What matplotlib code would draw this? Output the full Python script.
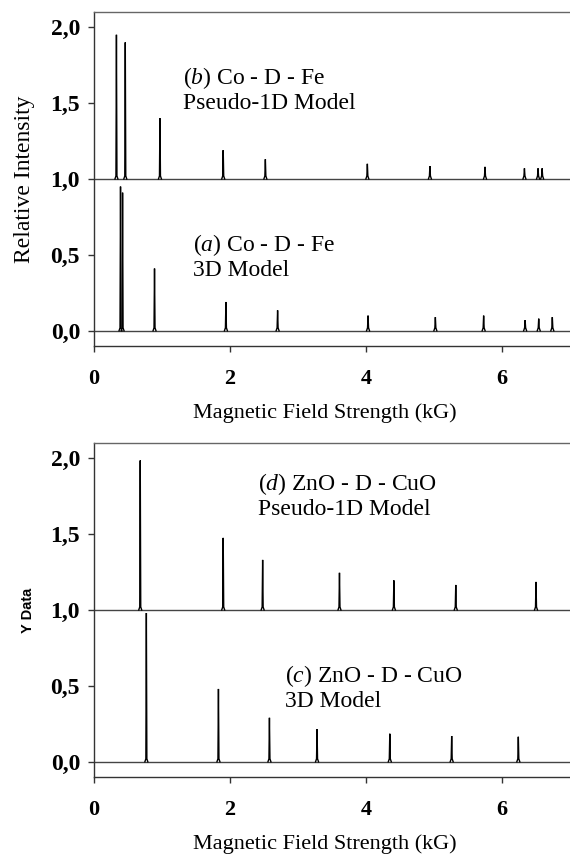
import matplotlib
matplotlib.use("Agg")
import matplotlib.pyplot as plt
from matplotlib.ticker import FuncFormatter

# ---- data ----
# panel 1: (b) pseudo-1D (offset 1.0) and (a) 3D (offset 0)
b_pos = [0.33, 0.46, 0.97, 1.90, 2.52, 4.02, 4.94, 5.75, 6.33, 6.53, 6.59]
b_hgt = [0.95, 0.90, 0.40, 0.19, 0.13, 0.10, 0.085, 0.08, 0.07, 0.07, 0.07]
a_pos = [0.39, 0.42, 0.89, 1.94, 2.70, 4.03, 5.02, 5.73, 6.34, 6.54, 6.74]
a_hgt = [0.95, 0.91, 0.41, 0.19, 0.135, 0.10, 0.09, 0.10, 0.07, 0.08, 0.09]
# panel 2: (d) pseudo-1D (offset 1.0) and (c) 3D (offset 0)
d_pos = [0.68, 1.90, 2.48, 3.61, 4.41, 5.32, 6.50]
d_hgt = [0.985, 0.475, 0.33, 0.245, 0.195, 0.165, 0.185]
c_pos = [0.77, 1.83, 2.58, 3.28, 4.35, 5.26, 6.24]
c_hgt = [0.98, 0.48, 0.29, 0.215, 0.185, 0.17, 0.165]
offsets = [1.0, 0.0]

x_ticks = [0, 2, 4, 6]
y_ticks = [0.0, 0.5, 1.0, 1.5, 2.0]
xlabel = "Magnetic Field Strength (kG)"
ylabel_top = "Relative Intensity"
ylabel_bot = "Y Data"
labels_top = [r"($\mathit{b}$) Co - D - Fe" + "\nPseudo-1D Model",
              r"($\mathit{a}$) Co - D - Fe" + "\n3D Model"]
labels_bot = [r"($\mathit{d}$) ZnO - D - CuO" + "\nPseudo-1D Model",
              r"($\mathit{c}$) ZnO - D - CuO" + "\n3D Model"]

plt.rcParams['font.family'] = ['Liberation Serif', 'DejaVu Serif']
plt.rcParams['mathtext.fontset'] = 'custom'
plt.rcParams['mathtext.rm'] = 'Liberation Serif'
plt.rcParams['mathtext.it'] = 'Liberation Serif:italic'

fig = plt.figure(figsize=(5.70, 8.64), dpi=100)
W, H = 570, 864
left = 94 / W
width = 1.0 - left
hgt = 334 / H
ax1 = fig.add_axes([left, 1 - 346 / H, width, hgt])
ax2 = fig.add_axes([left, 1 - 777 / H, width, hgt])

frame_col = '#333333'
base_col = '#444444'
PW = 0.022  # half-width of drawn peaks


def draw_peaks(ax, pos, hgt_, base):
    for p, h in zip(pos, hgt_):
        ax.plot([p - PW, p - PW / 3, p, p + PW / 3, p + PW],
                [base, base + 0.02, base + h, base + 0.02, base],
                color='black', lw=1.0, solid_joinstyle='miter')


def style_axes(ax):
    ax.set_xlim(0, 7)
    ax.set_ylim(-0.1, 2.1)
    ax.set_xticks(x_ticks)
    ax.set_yticks(y_ticks)
    ax.xaxis.set_major_formatter(FuncFormatter(lambda v, p: f"{v:.0f}"))
    ax.yaxis.set_major_formatter(FuncFormatter(lambda v, p: f"{v:.1f}".replace('.', ',')))
    for s in ['left', 'bottom', 'top']:
        ax.spines[s].set_color(frame_col)
        ax.spines[s].set_linewidth(1.0)
    ax.spines['top'].set_color('#666666')
    ax.spines['right'].set_visible(False)
    ax.tick_params(axis='x', direction='out', length=4.5, width=1, color=frame_col,
                   pad=12, labelsize=16)
    ax.tick_params(axis='y', direction='out', length=4, width=1, color=frame_col,
                   pad=6, labelsize=17)
    for t in ax.get_xticklabels() + ax.get_yticklabels():
        t.set_fontweight('bold')
    for o in offsets:
        ax.axhline(o, color=base_col, lw=1.0, zorder=1)


style_axes(ax1)
style_axes(ax2)

draw_peaks(ax1, b_pos, b_hgt, offsets[0])
draw_peaks(ax1, a_pos, a_hgt, offsets[1])
draw_peaks(ax2, d_pos, d_hgt, offsets[0])
draw_peaks(ax2, c_pos, c_hgt, offsets[1])

txt_kw = dict(fontsize=17, ha='left', va='center', linespacing=1.1)
ax1.text(1.31, 1.59, labels_top[0], **txt_kw)
ax1.text(1.46, 0.49, labels_top[1], **txt_kw)
ax2.text(2.41, 1.755, labels_bot[0], **txt_kw)
ax2.text(2.81, 0.49, labels_bot[1], **txt_kw)

for ax in (ax1, ax2):
    ax.set_xlabel(xlabel, fontsize=16, va='top')
    ax.xaxis.set_label_coords(0.485, -0.172)

ax1.set_ylabel(ylabel_top, fontsize=17, va='center')
ax1.yaxis.set_label_coords(-0.146, 0.5)
ax2.set_ylabel(ylabel_bot, fontsize=10.5, fontweight='bold',
               family=['Liberation Sans', 'DejaVu Sans'], va='center')
ax2.yaxis.set_label_coords(-0.138, 0.5)

fig.savefig("out.png", dpi=100)
